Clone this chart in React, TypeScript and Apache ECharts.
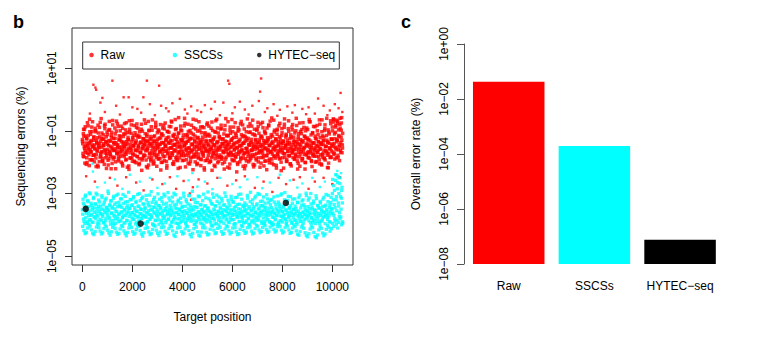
import React, { useEffect, useRef } from "react";
import * as echarts from "echarts";

const FONT = "'Liberation Sans', Arial, Helvetica, sans-serif";
const MINUS = "\u2212";

// ---------- Panel b: per-position error rates (log10 of %, in hundredths) ----------
const POSITION_STEP = 25; // positions 0, 25, 50 ... for the dense clouds
const xTicks = [0, 2000, 4000, 6000, 8000, 10000];
const yTicksB = [-5, -3, -1, 1];

const rawA = [
  -128,-172,-95,-151,-203,-117,-139,-186,-74,-160,-142,-211,-103,-168,-131,-88,-192,-149,-122,-177,
  -156,-99,-214,-137,-165,-82,-145,-198,-119,-173,-61,-152,-188,-126,-141,-207,-93,-163,-135,-179,
  -112,-194,-147,-70,-169,-133,-221,-105,-158,-184,-124,-143,-91,-199,-138,-166,-77,-153,-190,-116,
  -171,-129,-85,-160,-205,-140,-110,-182,-149,-97,-175,-134,-216,-121,-155,-68,-187,-144,-108,-162,
  -197,-127,-150,-83,-178,-139,-202,-114,-164,-92,-146,-189,-120,-170,-136,-226,-101,-157,-181,-130,
  -148,-76,-193,-118,-161,-135,-209,-98,-174,-143,-125,-184,-65,-154,-196,-132,-167,-89,-141,-213,
  -106,-176,-152,-123,-188,-80,-163,-137,-200,-115,-158,-94,-181,-146,-127,-219,-102,-169,-139,-86,
  -185,-131,-154,-72,-178,-145,-207,-111,-165,-96,-142,-192,-119,-173,-58,-150,-186,-128,-160,-100,
  -195,-137,-171,-84,-147,-215,-113,-162,-133,-79,-180,-155,-124,-198,-107,-167,-142,-224,-90,-158,
  -129,-183,-66,-151,-204,-121,-174,-140,-99,-190,-135,-163,-87,-176,-148,-218,-110,-157,-131,-194,
  -75,-166,-144,-201,-117,-159,-92,-185,-138,-170,-126,-210,-103,-152,-179,-63,-161,-134,-197,-120,
  -177,-149,-82,-191,-127,-164,-141,-222,-97,-156,-184,-116,-145,-71,-172,-136,-206,-108,-168,-150,
  -125,-195,-88,-160,-139,-182,-114,-231,-153,-101,-175,-132,-199,-78,-165,-146,-119,-187,-140,-94,
  -170,-211,-123,-157,-62,-181,-143,-105,-193,-136,-163,-85,-176,-149,-215,-112,-159,-130,-188,-98,
  -152,-73,-186,-128,-168,-144,-203,-117,-161,-90,-179,-138,-197,-109,-155,-224,-133,-171,-81,-148,
  -190,-121,-165,-59,-174,-140,-208,-104,-158,-187,-126,-150,-95,-182,-135,-167,-76,-153,-200,-115,
  -162,-139,-219,-89,-173,-147,-111,-192,-130,-156,-68,-180,-143,-205,-120,-164,-97,-185,-137,-159,
  -107,-178,-151,-83,-196,-127,-169,-142,-213,-102,-160,-134,-189,-74,-155,-175,-118,-201,-145,-91,
  -170,-129,-184,-64,-152,-166,-113,-198,-139,-176,-86,-158,-228,-124,-147,-181,-100,-163,-135,-193,
  -79,-157,-141,-209,-116,-172,-131,-187,-93,-150,-165,-60,-178,-137,-203,-110,-154,-183,-126,-146,
  -88,-168,-72,-140,-190,-105,-155,-66,-131,-178,-97,-150,-80,-162,-120,-58,-145,
];

const rawB = [
  -141,-109,-183,-156,-87,-169,-124,-201,-148,-115,-176,-63,-160,-134,-193,-102,-152,-178,-119,-145,
  -92,-187,-130,-162,-210,-107,-154,-141,-73,-180,-125,-166,-198,-113,-147,-84,-171,-136,-220,-104,
  -159,-132,-189,-96,-175,-150,-121,-204,-81,-163,-138,-185,-110,-157,-69,-172,-144,-196,-127,-153,
  -100,-181,-135,-165,-212,-118,-149,-77,-170,-143,-191,-106,-161,-128,-223,-95,-158,-186,-133,-67,
  -174,-147,-115,-199,-138,-162,-89,-182,-120,-155,-208,-103,-168,-137,-79,-193,-151,-125,-177,-142,
  -109,-164,-214,-131,-156,-70,-185,-140,-118,-196,-149,-98,-172,-134,-203,-116,-160,-83,-179,-146,
  -127,-190,-101,-167,-143,-225,-112,-158,-91,-183,-139,-165,-75,-150,-198,-122,-173,-136,-105,-188,
  -155,-87,-170,-132,-205,-117,-161,-145,-64,-186,-128,-152,-195,-108,-166,-140,-217,-97,-177,-130,
  -149,-113,-180,-60,-159,-137,-192,-120,-171,-102,-154,-206,-126,-163,-82,-184,-144,-111,-175,-134,
  -199,-94,-167,-148,-123,-187,-71,-157,-138,-211,-106,-169,-129,-181,-90,-152,-195,-118,-162,-141,
  -114,-178,-85,-160,-197,-131,-150,-226,-99,-173,-145,-120,-189,-68,-164,-136,-202,-107,-156,-183,
  -125,-151,-93,-186,-140,-170,-110,-200,-133,-61,-167,-147,-216,-116,-158,-179,-88,-153,-129,-192,
  -103,-176,-142,-161,-74,-184,-121,-155,-207,-135,-97,-169,-148,-190,-112,-163,-81,-177,-139,-221,
  -118,-157,-196,-130,-166,-86,-174,-145,-104,-188,-127,-160,-66,-182,-141,-209,-115,-151,-172,-95,
  -137,-199,-108,-164,-150,-78,-185,-123,-171,-144,-212,-101,-158,-133,-180,-91,-162,-128,-194,-146,
  -69,-168,-139,-203,-117,-153,-181,-98,-163,-132,-219,-111,-176,-147,-84,-190,-126,-159,-142,-106,
  -186,-134,-173,-62,-156,-120,-197,-143,-165,-93,-179,-138,-206,-113,-152,-171,-80,-161,-130,-189,
  -148,-100,-183,-136,-222,-119,-158,-75,-174,-145,-109,-195,-131,-167,-89,-153,-201,-124,-177,-140,
  -96,-166,-128,-187,-71,-160,-146,-214,-107,-172,-138,-181,-117,-155,-198,-83,-169,-135,-150,-205,
  -122,-176,-143,-65,-184,-132,-162,-99,-193,-149,-115,-170,-136,-218,-104,-158,-185,-77,-164,-127,
  -142,-62,-175,-110,-152,-83,-186,-128,-70,-160,-115,-195,-92,-138,-75,-170,-108,
];

const rawC = [
  -134,-181,-117,-96,-163,-149,-207,-126,-171,-84,-155,-138,-192,-111,-166,-145,-71,-178,-130,-199,
  -158,-103,-175,-140,-122,-215,-152,-89,-184,-133,-168,-107,-196,-147,-127,-160,-79,-186,-119,-172,
  -143,-209,-98,-165,-131,-180,-114,-154,-67,-190,-137,-162,-124,-221,-101,-173,-148,-86,-183,-129,
  -164,-118,-200,-151,-92,-177,-136,-158,-110,-193,-74,-167,-142,-128,-212,-104,-170,-153,-81,-187,
  -121,-174,-146,-197,-106,-161,-132,-78,-182,-150,-116,-204,-139,-169,-95,-157,-188,-125,-144,-65,
  -179,-135,-160,-112,-218,-148,-100,-171,-128,-191,-87,-163,-141,-206,-119,-176,-152,-73,-185,-134,
  -156,-97,-189,-143,-167,-123,-201,-109,-174,-138,-82,-195,-149,-130,-164,-211,-102,-158,-120,-180,
  -140,-186,-69,-154,-172,-115,-198,-145,-126,-162,-93,-183,-136,-220,-107,-168,-151,-85,-177,-131,
  -166,-122,-194,-147,-76,-178,-139,-157,-113,-203,-133,-170,-99,-187,-144,-124,-161,-63,-182,-150,
  -117,-175,-137,-208,-101,-159,-184,-129,-146,-88,-192,-153,-120,-171,-142,-225,-106,-165,-134,-80,
  -188,-148,-111,-169,-132,-197,-156,-72,-180,-127,-163,-145,-214,-104,-174,-139,-91,-185,-152,-118,
  -161,-94,-183,-141,-205,-125,-167,-150,-83,-190,-135,-158,-114,-176,-143,-219,-98,-170,-130,-64,
  -179,-144,-121,-195,-153,-108,-173,-137,-202,-90,-165,-148,-127,-186,-70,-159,-140,-213,-116,-172,
  -133,-189,-103,-155,-168,-124,-199,-146,-77,-181,-138,-162,-110,-207,-151,-95,-176,-128,-193,-142,
  -157,-86,-171,-136,-216,-118,-164,-149,-73,-185,-131,-154,-105,-196,-140,-178,-122,-160,-84,-202,
  -145,-167,-112,-190,-134,-158,-66,-180,-150,-126,-210,-99,-173,-143,-163,-119,-187,-137,-227,-93,
  -170,-132,-154,-79,-184,-147,-115,-198,-139,-166,-102,-179,-125,-156,-212,-88,-169,-144,-120,-191,
  -135,-174,-60,-160,-141,-204,-109,-183,-151,-128,-167,-96,-188,-136,-157,-117,-222,-100,-175,-149,
  -123,-186,-145,-71,-171,-133,-195,-154,-106,-180,-139,-162,-87,-200,-126,-168,-148,-112,-183,-65,
  -159,-138,-206,-103,-176,-144,-120,-189,-81,-164,-150,-130,-217,-97,-173,-140,-156,-68,-185,-127,
  -100,-150,-64,-172,-125,-88,-160,-135,-76,-185,-118,-145,-60,-168,-98,-130,-155,
];

// sparse raw points outside the dense band: [position, log10(%) x 100]
const rawOutliers = [
  [440,47],[520,38],[550,31],[720,-10],[800,5],[1200,60],[1350,-20],[1650,7],[1850,7],[2000,-25],
  [2200,-30],[2440,7],[2580,60],[2700,-15],[3070,44],[3150,-20],[3350,-28],[3600,-12],[3900,2],[4100,-32],
  [4350,-22],[4600,-35],[4900,-18],[5150,-30],[5300,-7],[5640,-10],[5830,60],[5880,50],[6100,-25],[6300,-7],
  [6500,-32],[6800,-20],[7060,-5],[7110,25],[7150,67],[7400,-28],[7650,-15],[7900,-33],[8200,-22],[8500,-18],
  [8800,-30],[9050,-25],[9430,3],[9650,-20],[9900,-35],[10100,-15],[10250,-28],[10330,21],
  [300,-45],[900,-40],[1500,-48],[2350,-42],[2900,-50],[3450,-38],[4200,-45],[4750,-40],[5500,-50],[6000,-44],
  [6650,-48],[7300,-40],[7800,-52],[8400,-42],[8950,-47],[9300,-45],[9800,-50],[10400,-40],
  [150,-245],[500,-262],[1100,-250],[1400,-275],[1750,-248],[2150,-265],[2450,-290],[2800,-255],[3200,-270],[3500,-248],
  [3750,-285],[4050,-260],[4300,-300],[4350,-320],[4420,-280],[4650,-255],[5000,-268],[5400,-250],[5800,-275],[6150,-258],
  [6500,-245],[6900,-282],[7250,-262],[7600,-295],[7850,-250],[8150,-270],[8450,-256],[8700,-248],[9050,-285],[9300,-262],
  [9650,-250],[10000,-270],[10300,-248],
];

const sscsA = [
  -352,-318,-381,-337,-396,-305,-364,-342,-389,-326,-371,-298,-355,-384,-331,-367,-345,-392,-312,-360,
  -376,-334,-299,-368,-348,-390,-321,-357,-383,-340,-365,-307,-374,-350,-393,-328,-361,-387,-315,-346,
  -369,-292,-354,-379,-335,-398,-323,-362,-343,-386,-309,-372,-349,-395,-330,-358,-380,-302,-366,-339,
  -388,-317,-359,-344,-377,-303,-370,-351,-394,-327,-363,-385,-338,-356,-296,-373,-347,-391,-320,-361,
  -336,-382,-310,-367,-353,-397,-325,-358,-375,-341,-388,-300,-364,-349,-379,-316,-371,-333,-395,-356,
  -345,-373,-306,-362,-390,-329,-355,-381,-340,-368,-294,-376,-352,-399,-319,-363,-344,-386,-327,-370,
  -357,-301,-384,-338,-366,-349,-392,-313,-360,-378,-334,-372,-308,-354,-387,-342,-365,-297,-381,-350,
  -323,-369,-346,-393,-311,-359,-383,-337,-374,-304,-362,-348,-396,-326,-367,-352,-380,-315,-358,-389,
  -341,-364,-299,-377,-355,-392,-320,-361,-385,-333,-370,-307,-357,-381,-345,-368,-293,-375,-352,-398,
  -318,-366,-343,-387,-329,-359,-376,-310,-363,-394,-336,-372,-350,-383,-302,-357,-378,-339,-365,-391,
  -347,-295,-371,-356,-388,-324,-361,-380,-334,-369,-312,-353,-397,-340,-366,-305,-375,-358,-386,-331,
  -364,-349,-390,-316,-360,-378,-337,-371,-298,-355,-384,-343,-368,-321,-362,-393,-339,-376,-309,-352,
  -383,-326,-367,-345,-396,-313,-358,-374,-335,-370,-303,-361,-389,-350,-366,-318,-377,-341,-394,-356,
  -330,-372,-352,-387,-306,-363,-379,-342,-368,-296,-356,-391,-333,-374,-348,-385,-314,-360,-378,-337,
  -365,-300,-381,-347,-370,-325,-359,-395,-338,-367,-311,-354,-388,-344,-373,-304,-362,-384,-329,-357,
  -390,-336,-361,-319,-375,-352,-398,-327,-364,-381,-346,-369,-308,-356,-392,-334,-371,-349,-386,-301,
  -358,-377,-340,-366,-297,-383,-353,-389,-322,-360,-375,-344,-370,-310,-357,-395,-331,-368,-351,-385,
  -317,-363,-348,-392,-328,-371,-356,-380,-305,-365,-388,-337,-373,-320,-359,-384,-343,-367,-299,-354,
  -376,-342,-369,-314,-361,-393,-333,-378,-350,-386,-324,-366,-352,-396,-307,-362,-379,-339,-371,-345,
  -388,-330,-364,-355,-382,-318,-359,-374,-341,-369,-303,-351,-377,-326,-363,-390,-336,-357,-312,-348,
  -300,-362,-275,-335,-380,-258,-320,-355,-285,-245,-340,-372,-268,-310,-350,-290,-330,
];

const sscsB = [
  -366,-331,-389,-349,-310,-377,-356,-395,-322,-362,-343,-384,-301,-370,-337,-391,-352,-316,-374,-346,
  -333,-380,-358,-304,-372,-341,-397,-327,-364,-350,-386,-313,-368,-336,-393,-355,-320,-379,-344,-361,
  -351,-300,-375,-339,-388,-324,-363,-347,-396,-315,-369,-335,-381,-357,-306,-373,-342,-390,-328,-365,
  -340,-385,-317,-359,-376,-332,-394,-353,-309,-371,-345,-387,-326,-362,-348,-399,-319,-367,-338,-378,
  -360,-314,-383,-345,-371,-329,-392,-356,-303,-374,-340,-388,-323,-364,-351,-380,-311,-369,-334,-395,
  -348,-376,-320,-361,-390,-337,-367,-305,-382,-352,-372,-328,-397,-343,-359,-312,-385,-333,-366,-350,
  -374,-339,-398,-318,-363,-345,-386,-325,-370,-355,-302,-379,-348,-393,-331,-368,-357,-383,-314,-362,
  -338,-371,-354,-389,-327,-365,-299,-378,-346,-394,-335,-360,-381,-321,-367,-350,-392,-330,-373,-344,
  -357,-384,-310,-369,-341,-396,-326,-363,-380,-349,-306,-375,-337,-389,-353,-366,-318,-386,-342,-371,
  -329,-365,-391,-345,-372,-308,-358,-383,-336,-368,-352,-397,-323,-361,-378,-340,-387,-314,-369,-355,
  -382,-346,-317,-374,-359,-393,-332,-366,-301,-379,-350,-385,-339,-364,-396,-325,-370,-356,-311,-377,
  -343,-388,-361,-324,-368,-351,-395,-336,-372,-309,-357,-381,-347,-391,-330,-365,-353,-384,-319,-363,
  -370,-328,-383,-354,-397,-341,-366,-312,-377,-349,-390,-334,-362,-302,-375,-357,-386,-338,-369,-345,
  -355,-392,-337,-364,-315,-380,-348,-399,-326,-371,-353,-387,-320,-367,-342,-394,-359,-308,-376,-333,
  -386,-350,-372,-303,-361,-339,-389,-356,-324,-378,-343,-395,-331,-365,-354,-382,-317,-370,-347,-391,
  -322,-367,-345,-393,-358,-376,-311,-363,-384,-335,-370,-352,-398,-327,-360,-341,-387,-305,-373,-356,
  -391,-344,-369,-320,-380,-353,-396,-332,-365,-309,-374,-348,-385,-339,-362,-392,-318,-377,-350,-367,
  -340,-385,-357,-398,-329,-371,-313,-364,-389,-346,-375,-324,-360,-394,-336,-368,-352,-381,-307,-372,
  -358,-321,-387,-349,-366,-300,-377,-343,-393,-331,-362,-384,-354,-373,-316,-389,-338,-364,-347,-395,
  -325,-370,-352,-388,-341,-375,-312,-360,-396,-337,-368,-356,-383,-306,-372,-345,-391,-329,-365,-350,
  -255,-320,-370,-290,-345,-240,-310,-385,-265,-330,-300,-360,-250,-375,-315,-280,-395,
];

// wavy lower ribbon of the SSCS cloud, every 50 positions
const RIBBON_STEP = 50;
const sscsRibbon = [
  -405,-418,-428,-424,-410,-399,-404,-416,-427,-431,-421,-407,-398,-409,-420,-429,-425,-412,-401,-406,
  -417,-426,-433,-422,-408,-400,-411,-423,-430,-427,-413,-402,-406,-419,-428,-435,-424,-410,-399,-408,
  -421,-430,-426,-414,-403,-405,-418,-429,-436,-425,-411,-400,-409,-422,-431,-428,-415,-402,-404,-417,
  -427,-434,-423,-409,-398,-407,-420,-430,-427,-412,-401,-406,-419,-432,-437,-424,-410,-400,-408,-421,
  -429,-426,-413,-403,-405,-418,-431,-438,-427,-412,-399,-407,-422,-433,-436,-423,-409,-401,-410,-424,
  -432,-429,-414,-402,-404,-417,-428,-425,-411,-400,-408,-421,-430,-427,-413,-403,-406,-419,-429,-424,
  -410,-399,-409,-422,-431,-428,-414,-402,-405,-418,-427,-423,-409,-398,-407,-420,-429,-426,-412,-401,
  -404,-416,-425,-421,-408,-397,-403,-415,-424,-420,-407,-396,-402,-414,-423,-419,-406,-398,-405,-417,
  -426,-422,-409,-399,-404,-416,-427,-424,-410,-400,-406,-419,-430,-433,-421,-407,-401,-411,-425,-434,
  -438,-428,-413,-403,-409,-424,-437,-441,-432,-416,-405,-411,-426,-435,-429,-414,-402,-408,-420,-412,
  -395,-405,-388,-398,-410,-392,-380,-400,-390,
];

const sscsOutliers = [
  [400,-205],[420,-230],[900,-265],[1300,-255],[1900,-240],[2300,-262],[2700,-250],[3300,-268],[3800,-245],[4250,-258],
  [4400,-235],[4900,-262],[5500,-250],[6000,-270],[6600,-255],[7000,-248],[7500,-265],[7900,-240],[8300,-258],[8800,-268],
  [9200,-250],[9700,-262],[10150,-240],[10200,-228],[10250,-250],[10350,-235],[600,-280],[1600,-285],[3000,-282],[4600,-278],
  [5200,-286],[6300,-280],[7200,-283],[8600,-281],[9500,-279],
];

const hytecPoints = [
  [132, -349],
  [2330, -396],
  [8140, -330],
];

// ---------- Panel c: overall error rate (%) ----------
const barCategories = ["Raw", "SSCSs", "HYTEC\u2212seq"];
const barValues = [0.042, 1.95e-4, 7.6e-8];
const barColors = ["#FF0000", "#00FFFF", "#000000"];
const BAR_AXIS_FLOOR = -8; // axis runs from 1e-08 to 1e+00
const yTicksC = [-8, -6, -4, -2, 0];

const legendNames = ["Raw", "SSCSs", "HYTEC\u2212seq"];

function fmtExp(e: number): string {
  const r = Math.round(e);
  const s = String(Math.abs(r)).padStart(2, "0");
  return "1e" + (r < 0 ? MINUS : "+") + s;
}

export default function App() {
  const ref = useRef<HTMLDivElement>(null);

  useEffect(() => {
    document.body.style.margin = "0";
    if (!ref.current) return;
    const chart = echarts.init(ref.current, null, { renderer: "svg" });

    const rawCore: number[][] = [];
    rawA.forEach((v, i) => rawCore.push([i * POSITION_STEP, v / 100]));
    rawB.forEach((v, i) => rawCore.push([i * POSITION_STEP + POSITION_STEP / 2, v / 100]));
    rawC.forEach((v, i) => rawCore.push([i * POSITION_STEP + POSITION_STEP / 4, v / 100]));
    const rawSparse = rawOutliers.map(([p, v]) => [p, v / 100]);

    const sscsCore: number[][] = [];
    sscsA.forEach((v, i) => sscsCore.push([i * POSITION_STEP, v / 100]));
    sscsB.forEach((v, i) => sscsCore.push([i * POSITION_STEP + POSITION_STEP / 2, v / 100]));
    sscsRibbon.forEach((v, i) => sscsCore.push([i * RIBBON_STEP + 10, v / 100]));
    const sscsSparse = sscsOutliers.map(([p, v]) => [p, v / 100]);

    const hytecData = hytecPoints.map(([p, v]) => [p, v / 100]);

    const axisColor = "#333";
    const labelStyle = { fontFamily: FONT, fontSize: 12, color: "#000" };

    const legendLefts = [89.3, 172.7, 257];

    const scatterBase = {
      type: "scatter", xAxisIndex: 0, yAxisIndex: 0, symbol: "rect", silent: true,
      large: false, progressive: 0,
    };

    const option: any = {
      animation: false,
      backgroundColor: "#fff",
      textStyle: { fontFamily: FONT },
      grid: [
        {
          left: 72, top: 28, width: 281, height: 237,
          show: true, borderColor: axisColor, borderWidth: 1, backgroundColor: "transparent",
          containLabel: false,
        },
        { left: 465.9, top: 44, width: 257, height: 220, containLabel: false },
      ],
      xAxis: [
        {
          type: "value", gridIndex: 0, min: -416, max: 10827,
          axisLine: { show: false, onZero: false }, splitLine: { show: false },
          axisTick: { show: true, customValues: xTicks, length: 7, lineStyle: { color: axisColor, width: 1 } },
          axisLabel: { customValues: xTicks, margin: 16, formatter: (v: number) => String(v), ...labelStyle },
          name: "Target position", nameLocation: "middle", nameGap: 46,
          nameTextStyle: { ...labelStyle },
        },
        {
          type: "category", gridIndex: 1, data: barCategories,
          axisLine: { show: false }, axisTick: { show: false }, splitLine: { show: false },
          axisLabel: { interval: 0, margin: 16, ...labelStyle },
        },
      ],
      yAxis: [
        {
          type: "value", gridIndex: 0, min: -5.28, max: 2.28,
          axisLine: { show: false, onZero: false }, splitLine: { show: false },
          axisTick: { show: true, customValues: yTicksB, length: 7, lineStyle: { color: axisColor, width: 1 } },
          axisLabel: { customValues: yTicksB, rotate: 90, margin: 14, formatter: (v: number) => fmtExp(v), ...labelStyle },
          name: "Sequencing errors (%)", nameLocation: "middle", nameGap: 45, nameRotate: 90,
          nameTextStyle: { ...labelStyle },
        },
        {
          type: "value", gridIndex: 1, min: 0, max: -BAR_AXIS_FLOOR, offset: 1.9,
          axisLine: { show: true, onZero: false, lineStyle: { color: "#555", width: 1 } },
          splitLine: { show: false },
          axisTick: { show: true, customValues: yTicksC.map((e) => e - BAR_AXIS_FLOOR), length: 7, lineStyle: { color: "#555", width: 1 } },
          axisLabel: {
            customValues: yTicksC.map((e) => e - BAR_AXIS_FLOOR),
            rotate: 90, margin: 14,
            formatter: (v: number) => fmtExp(v + BAR_AXIS_FLOOR), ...labelStyle,
          },
          name: "Overall error rate (%)", nameLocation: "middle", nameGap: 42, nameRotate: 90,
          nameTextStyle: { ...labelStyle },
        },
      ],
      legend: legendNames.map((n, i) => ({
        data: [n], left: legendLefts[i], top: 49, padding: 0, icon: "circle",
        itemWidth: 8, itemHeight: 4.5, itemGap: 0, selectedMode: false,
        textStyle: { ...labelStyle },
      })),
      graphic: [
        {
          type: "rect", silent: true, z: 10,
          shape: { x: 82.7, y: 42, width: 256.6, height: 27 },
          style: { fill: "none", stroke: axisColor, lineWidth: 1 },
        },
        {
          type: "text", left: 13, top: 13,
          style: { text: "b", font: `bold 18px ${FONT}`, fill: "#000" },
        },
        {
          type: "text", left: 401, top: 13,
          style: { text: "c", font: `bold 18px ${FONT}`, fill: "#000" },
        },
      ],
      series: [
        { ...scatterBase, name: "Raw", data: rawCore, symbolSize: 3.5, itemStyle: { color: "#FF0000" } },
        { ...scatterBase, name: "Raw", data: rawSparse, symbolSize: 2.4, itemStyle: { color: "#FF0000" } },
        { ...scatterBase, name: "SSCSs", data: sscsCore, symbolSize: 3.3, itemStyle: { color: "#00FFFF" } },
        { ...scatterBase, name: "SSCSs", data: sscsSparse, symbolSize: 2.4, itemStyle: { color: "#00FFFF" } },
        {
          type: "scatter", name: "HYTEC\u2212seq", xAxisIndex: 0, yAxisIndex: 0, data: hytecData,
          symbol: "circle", symbolSize: 6.5, itemStyle: { color: "#000000" }, silent: true,
        },
        {
          type: "bar", xAxisIndex: 1, yAxisIndex: 1, barWidth: 71.5, silent: true,
          data: barValues.map((v, i) => ({
            value: Math.log10(v) - BAR_AXIS_FLOOR,
            itemStyle: { color: barColors[i] },
          })),
        },
      ],
    };

    chart.setOption(option);
    return () => chart.dispose();
  }, []);

  return <div ref={ref} style={{ width: 760, height: 338 }} />;
}
